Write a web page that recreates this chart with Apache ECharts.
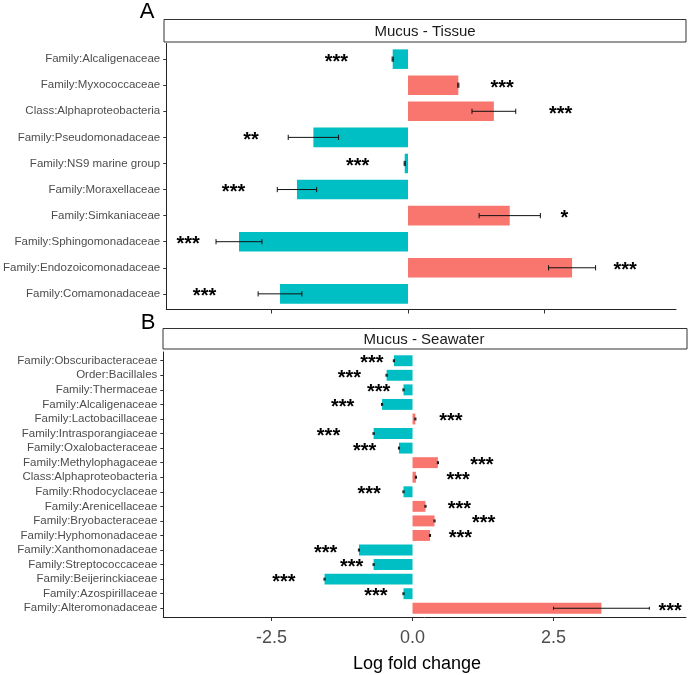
<!DOCTYPE html>
<html><head><meta charset="utf-8">
<script src="https://cdn.jsdelivr.net/npm/echarts@6/dist/echarts.min.js"></script>
<style>html,body{margin:0;padding:0;background:#fff}#c{width:692px;height:675px}</style>
</head><body><div id="c"></div>
<script>
// ---- Panel A: Mucus - Tissue ----
const catA = ['Family:Alcaligenaceae','Family:Myxococcaceae','Class:Alphaproteobacteria','Family:Pseudomonadaceae','Family:NS9 marine group','Family:Moraxellaceae','Family:Simkaniaceae','Family:Sphingomonadaceae','Family:Endozoicomonadaceae','Family:Comamonadaceae'];
const valA = [-0.28, 0.92, 1.57, -1.73, -0.06, -2.03, 1.86, -3.09, 3.00, -2.34];
const seA  = [0.01, 0.01, 0.40, 0.46, 0.01, 0.36, 0.56, 0.42, 0.43, 0.40];
const sigA = ['***','***','***','**','***','***','*','***','***','***'];
const sigXA = [-1.31, 1.72, 2.79, -2.87, -0.92, -3.19, 2.86, -4.02, 3.97, -3.72];

// ---- Panel B: Mucus - Seawater ----
const catB = ['Family:Obscuribacteraceae','Order:Bacillales','Family:Thermaceae','Family:Alcaligenaceae','Family:Lactobacillaceae','Family:Intrasporangiaceae','Family:Oxalobacteraceae','Family:Methylophagaceae','Class:Alphaproteobacteria','Family:Rhodocyclaceae','Family:Arenicellaceae','Family:Bryobacteraceae','Family:Hyphomonadaceae','Family:Xanthomonadaceae','Family:Streptococcaceae','Family:Beijerinckiaceae','Family:Azospirillaceae','Family:Alteromonadaceae'];
const valB = [-0.33, -0.46, -0.16, -0.54, 0.05, -0.69, -0.24, 0.45, 0.06, -0.16, 0.23, 0.39, 0.31, -0.95, -0.69, -1.56, -0.16, 3.35];
const seB  = [0.01, 0.01, 0.01, 0.01, 0.01, 0.01, 0.01, 0.01, 0.01, 0.01, 0.01, 0.01, 0.01, 0.01, 0.01, 0.01, 0.01, 0.85];
const sigB = ['***','***','***','***','***','***','***','***','***','***','***','***','***','***','***','***','***','***'];
const sigXB = [-0.72, -1.12, -0.60, -1.24, 0.68, -1.49, -0.85, 1.23, 0.81, -0.77, 0.83, 1.26, 0.85, -1.54, -1.08, -2.28, -0.65, 4.57];

const xTicks = [-2.5, 0, 2.5];
const xTitle = 'Log fold change';
const stripA = 'Mucus - Tissue';
const stripB = 'Mucus - Seawater';

const NEG = '#00BFC4', POS = '#F8766D';
const FONT = 'Liberation Sans, Arial, sans-serif';

function barRender(vals, ses) {
  return function (params, api) {
    const i = api.value(1);
    const v = vals[params.dataIndex], se = ses[params.dataIndex];
    const p0 = api.coord([0, i]), p1 = api.coord([v, i]);
    const band = api.size([0, 1])[1];
    const h = band * 0.75;
    const lo = api.coord([v - se, i]), hi = api.coord([v + se, i]);
    const cap = Math.max(band * 0.2, 3);
    const ls = {stroke: '#111', lineWidth: 1};
    return {type: 'group', children: [
      {type: 'rect', shape: {x: Math.min(p0[0], p1[0]), y: p0[1] - h / 2, width: Math.abs(p1[0] - p0[0]), height: h}, style: {fill: v < 0 ? NEG : POS}},
      {type: 'line', shape: {x1: lo[0], y1: lo[1], x2: hi[0], y2: hi[1]}, style: ls},
      {type: 'line', shape: {x1: lo[0], y1: lo[1] - cap / 2, x2: lo[0], y2: lo[1] + cap / 2}, style: ls},
      {type: 'line', shape: {x1: hi[0], y1: hi[1] - cap / 2, x2: hi[0], y2: hi[1] + cap / 2}, style: ls}
    ]};
  };
}
function starRender(sigs) {
  return function (params, api) {
    const p = api.coord([api.value(0), api.value(1)]);
    return {type: 'text', x: p[0], y: p[1] + 3, style: {text: sigs[params.dataIndex], font: 'bold 20px ' + FONT, fill: '#000', align: 'center', verticalAlign: 'middle', textAlign: 'center', textVerticalAlign: 'middle'}};
  };
}
function yAxis(cats, gi) {
  const idx = cats.map((c, i) => i);
  return {type: 'value', gridIndex: gi, min: -0.6, max: cats.length - 1 + 0.6, inverse: true,
    splitLine: {show: false},
    axisLine: {show: true, onZero: false, lineStyle: {color: '#222', width: 1}},
    axisTick: {show: true, length: 3, lineStyle: {color: '#333'}, customValues: idx},
    axisLabel: {show: true, customValues: idx, margin: 6, color: '#4D4D4D', fontSize: 11.5, fontFamily: FONT,
      formatter: v => cats[Math.round(v)] || ''}};
}
function xAxis(gi, min, max, showLabel) {
  return {type: 'value', gridIndex: gi, min: min, max: max,
    splitLine: {show: false},
    axisLine: {show: true, onZero: false, lineStyle: {color: '#222', width: 1}},
    axisTick: {show: true, length: 4, lineStyle: {color: '#333'}, customValues: xTicks},
    axisLabel: {show: showLabel, customValues: xTicks, margin: 12, color: '#4D4D4D', fontSize: 18, fontFamily: FONT,
      formatter: v => v.toFixed(1)}};
}

const chart = echarts.init(document.getElementById('c'), null, {renderer: 'canvas'});
chart.setOption({
  animation: false,
  backgroundColor: '#fff',
  grid: [
    {left: 164, right: 16, top: 43.5, height: 266},
    {left: 163.3, right: 6, top: 352, height: 265}
  ],
  xAxis: [xAxis(0, -4.42, 4.90, false), xAxis(1, -4.42, 4.85, true)],
  yAxis: [yAxis(catA, 0), yAxis(catB, 1)],
  series: [
    {type: 'custom', xAxisIndex: 0, yAxisIndex: 0, renderItem: barRender(valA, seA), data: valA.map((v, i) => [v, i]), clip: false},
    {type: 'custom', xAxisIndex: 0, yAxisIndex: 0, renderItem: starRender(sigA), data: sigXA.map((v, i) => [v, i]), clip: false},
    {type: 'custom', xAxisIndex: 1, yAxisIndex: 1, renderItem: barRender(valB, seB), data: valB.map((v, i) => [v, i]), clip: false},
    {type: 'custom', xAxisIndex: 1, yAxisIndex: 1, renderItem: starRender(sigB), data: sigXB.map((v, i) => [v, i]), clip: false}
  ],
  graphic: [
    {type: 'rect', shape: {x: 164, y: 19.5, width: 522, height: 22.5}, style: {fill: '#fff', stroke: '#333', lineWidth: 1}},
    {type: 'text', x: 425, y: 32, style: {text: stripA, font: '15px ' + FONT, fill: '#1A1A1A', align: 'center', verticalAlign: 'middle'}},
    {type: 'rect', shape: {x: 163, y: 328.5, width: 524, height: 20.5}, style: {fill: '#fff', stroke: '#333', lineWidth: 1}},
    {type: 'text', x: 424, y: 340, style: {text: stripB, font: '15px ' + FONT, fill: '#1A1A1A', align: 'center', verticalAlign: 'middle'}},
    {type: 'text', x: 147, y: 12, style: {text: 'A', font: '22px ' + FONT, fill: '#000', align: 'center', verticalAlign: 'middle'}},
    {type: 'text', x: 148, y: 323, style: {text: 'B', font: '22px ' + FONT, fill: '#000', align: 'center', verticalAlign: 'middle'}},
    {type: 'text', x: 417, y: 664, style: {text: xTitle, font: '18px ' + FONT, fill: '#000', align: 'center', verticalAlign: 'middle'}}
  ]
});
</script>
</body></html>
